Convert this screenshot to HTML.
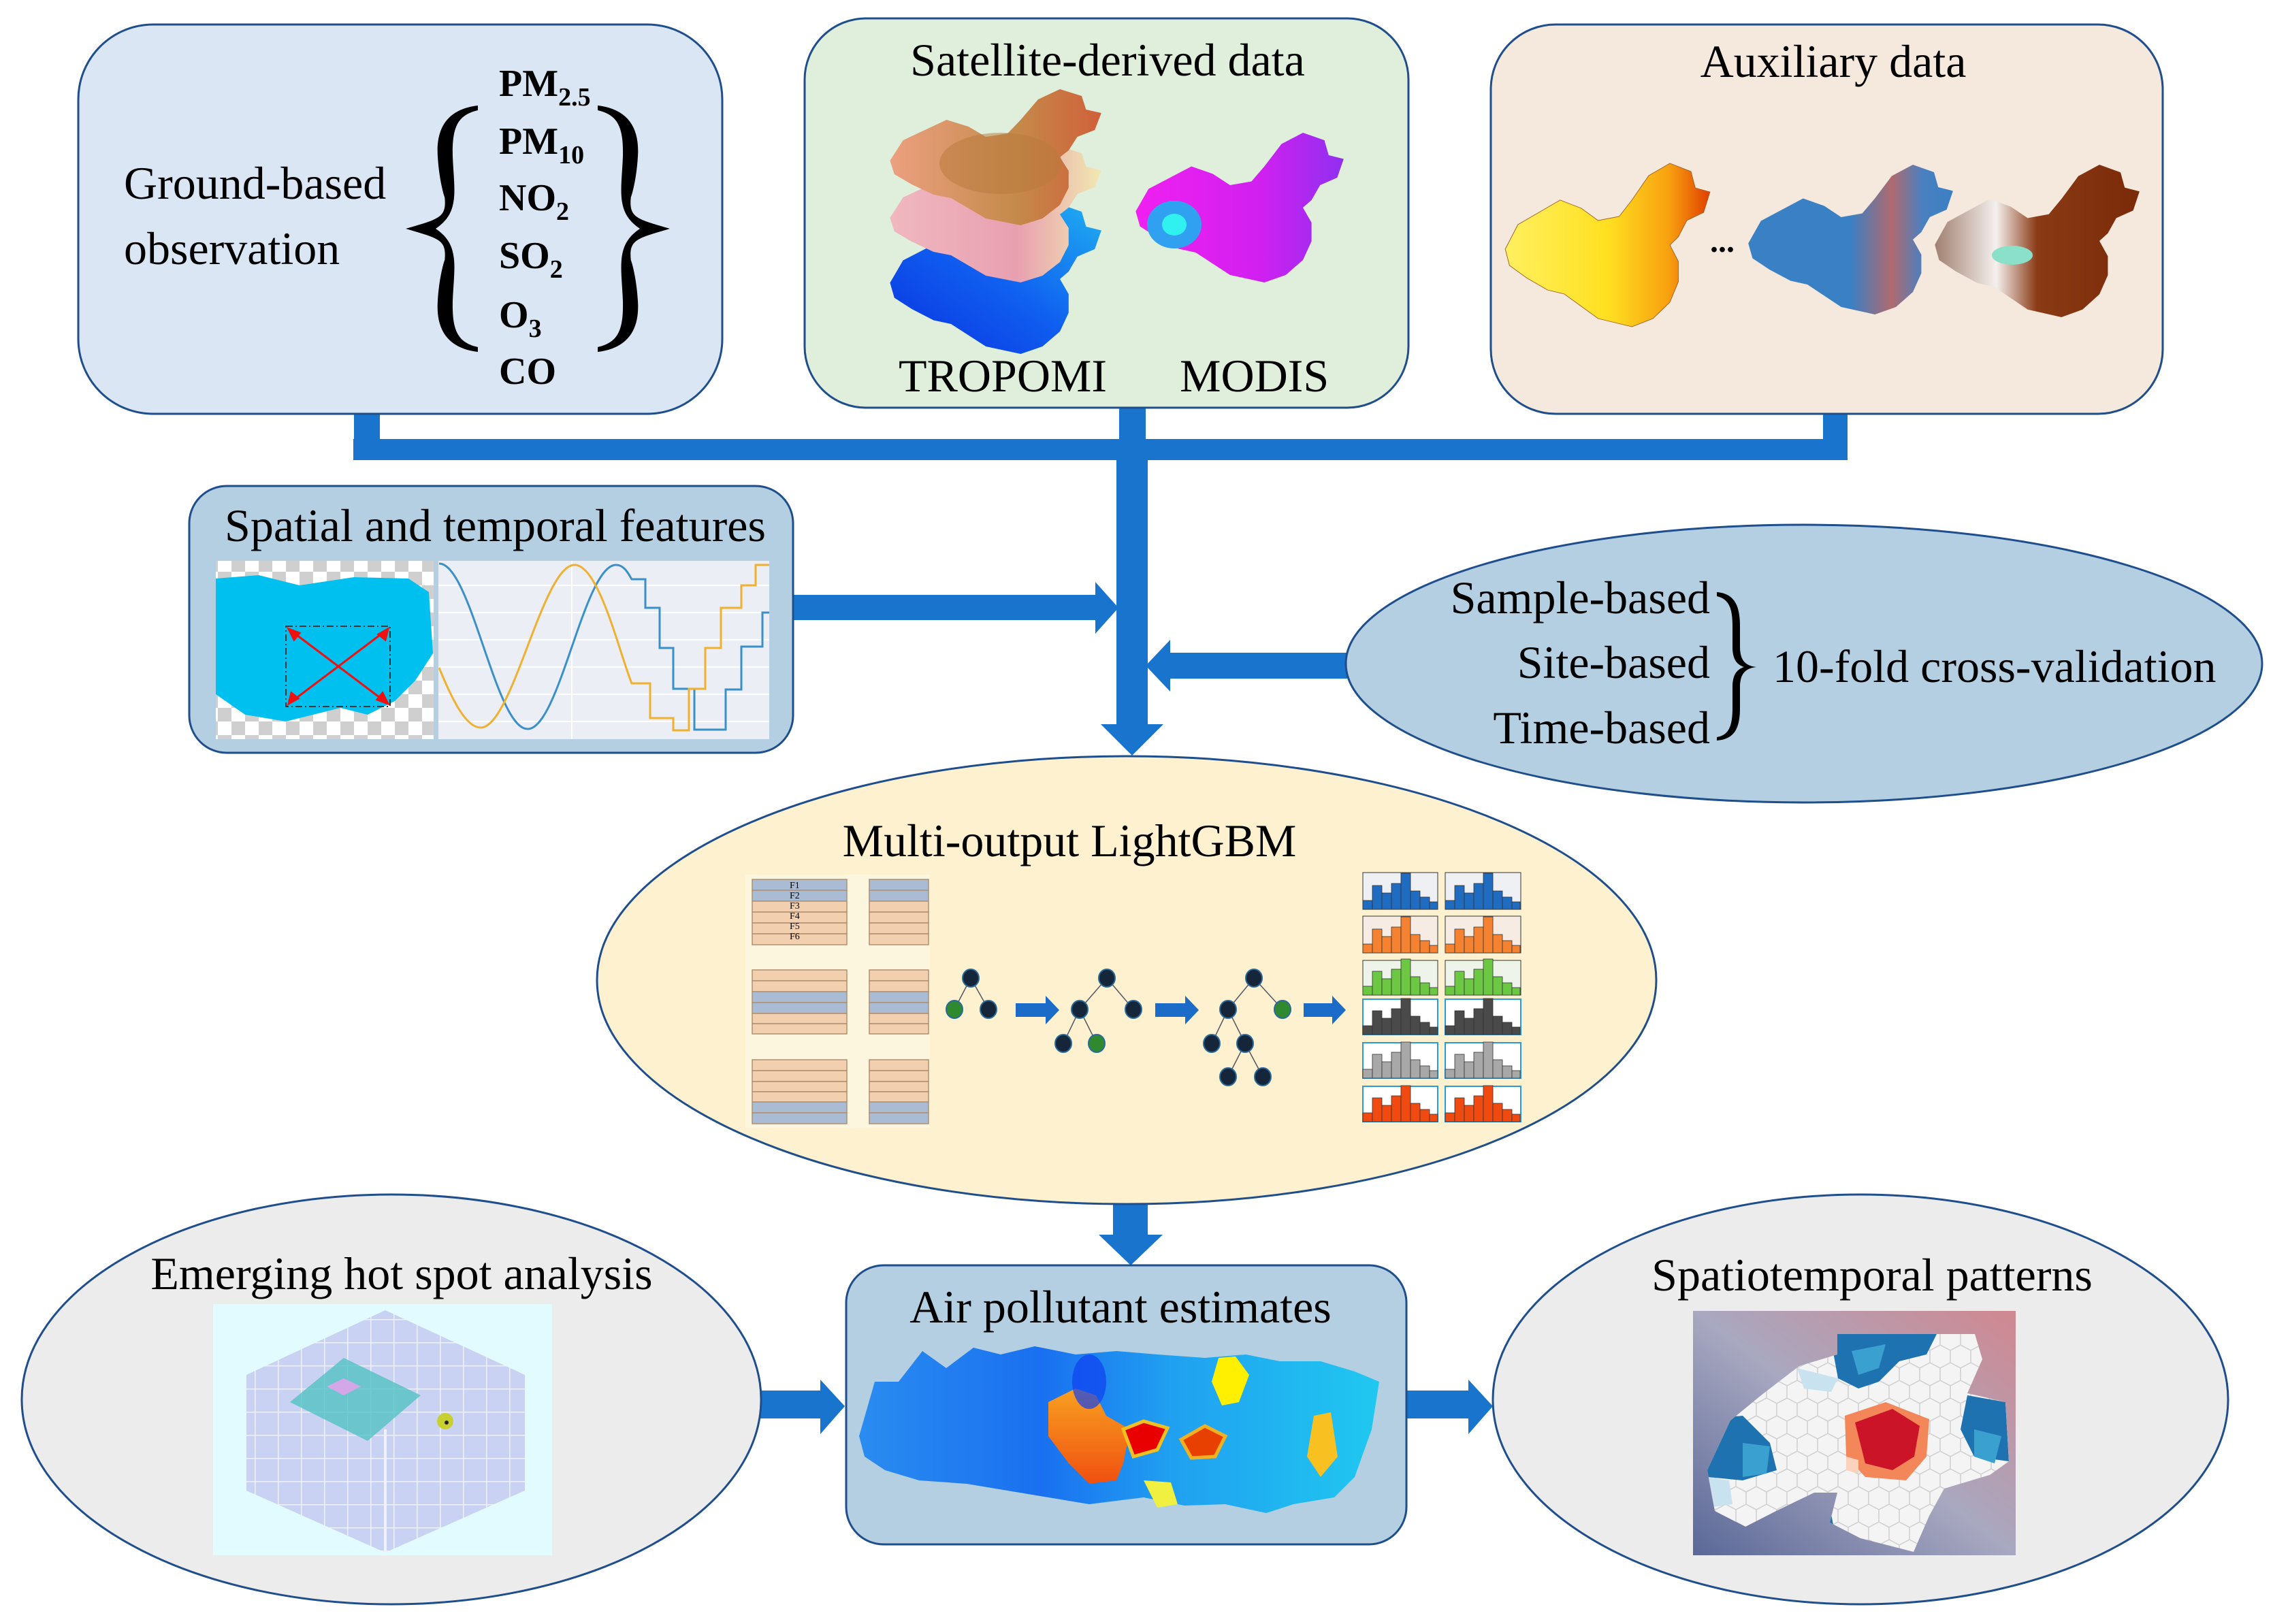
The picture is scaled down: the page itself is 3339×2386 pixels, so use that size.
<!DOCTYPE html>
<html><head><meta charset="utf-8">
<style>
html,body{margin:0;padding:0;background:#fff;}
svg{display:block;}
text{font-family:"Liberation Serif","DejaVu Serif",serif;fill:#000;}
</style></head>
<body>
<svg width="3339" height="2386" viewBox="0 0 3339 2386" xmlns="http://www.w3.org/2000/svg">
<defs>
  <path id="china" d="M2,42 L8,30 L18,24 L28,18 L38,22 L46,28 L56,26 L62,18 L70,6 L80,0 L90,4 L92,12 L99,14 L96,24 L88,28 L84,36 L80,40 L84,48 L84,58 L80,68 L72,76 L62,80 L54,78 L46,76 L38,70 L30,64 L22,62 L12,56 L4,50 Z"/>
  <linearGradient id="gTrop1" x1="0" y1="0" x2="1" y2="0">
    <stop offset="0" stop-color="#eca080"/><stop offset="0.6" stop-color="#c48a4a"/><stop offset="1" stop-color="#d0603a"/>
  </linearGradient>
  <linearGradient id="gTrop2" x1="0" y1="0" x2="1" y2="0">
    <stop offset="0" stop-color="#f0b8c0"/><stop offset="0.6" stop-color="#e8a0b0"/><stop offset="1" stop-color="#f0e8b0"/>
  </linearGradient>
  <linearGradient id="gTrop3" x1="0" y1="1" x2="1" y2="0">
    <stop offset="0" stop-color="#0a30e0"/><stop offset="0.5" stop-color="#1060f0"/><stop offset="1" stop-color="#20b0f0"/>
  </linearGradient>
  <linearGradient id="gModis" x1="0" y1="0" x2="1" y2="0">
    <stop offset="0" stop-color="#f020f0"/><stop offset="0.6" stop-color="#d020f0"/><stop offset="1" stop-color="#9030f0"/>
  </linearGradient>
  <linearGradient id="gAux1" x1="0" y1="0" x2="1" y2="0">
    <stop offset="0" stop-color="#fff060"/><stop offset="0.5" stop-color="#ffe020"/><stop offset="0.8" stop-color="#f8a010"/><stop offset="1" stop-color="#e04000"/>
  </linearGradient>
  <linearGradient id="gAux2" x1="0" y1="0" x2="1" y2="0">
    <stop offset="0" stop-color="#3a80c4"/><stop offset="0.5" stop-color="#3a80c4"/><stop offset="0.7" stop-color="#b06a70"/><stop offset="0.85" stop-color="#4a80c0"/><stop offset="1" stop-color="#3a80c4"/>
  </linearGradient>
  <linearGradient id="gAux3" x1="0" y1="0" x2="1" y2="0">
    <stop offset="0" stop-color="#a08070"/><stop offset="0.3" stop-color="#f4f0ee"/><stop offset="0.5" stop-color="#8a3a14"/><stop offset="1" stop-color="#7a2a08"/>
  </linearGradient>
  <linearGradient id="gAir" x1="0" y1="0" x2="1" y2="0">
    <stop offset="0" stop-color="#2a8cf0"/><stop offset="0.35" stop-color="#1a70f0"/><stop offset="0.6" stop-color="#20a0f0"/><stop offset="1" stop-color="#20c8f0"/>
  </linearGradient>
  <linearGradient id="gOrange" x1="0" y1="0" x2="0" y2="1">
    <stop offset="0" stop-color="#f8a020"/><stop offset="1" stop-color="#f05010"/>
  </linearGradient>
  <linearGradient id="gSpat" x1="0" y1="1" x2="1" y2="0">
    <stop offset="0" stop-color="#5a6898"/><stop offset="0.5" stop-color="#a8a8c0"/><stop offset="1" stop-color="#d08890"/>
  </linearGradient>
  <pattern id="checker" width="40" height="40" patternUnits="userSpaceOnUse">
    <rect width="40" height="40" fill="#fff"/><rect width="20" height="20" fill="#cfcfcf"/><rect x="20" y="20" width="20" height="20" fill="#cfcfcf"/>
  </pattern>
  <pattern id="hex" width="30" height="52" patternUnits="userSpaceOnUse">
    <rect width="30" height="52" fill="#f4f4f4"/>
    <path d="M0,0 L15,8 L15,26 L0,34 M15,26 L30,34 M15,8 L30,0 M0,34 L0,52 M30,34 L30,52" stroke="#cfcfcf" stroke-width="1.5" fill="none"/>
  </pattern>
  <pattern id="cubegrid" width="34" height="34" patternUnits="userSpaceOnUse">
    <rect width="34" height="34" fill="#c9d2f2"/>
    <path d="M0,0 H34 M0,0 V34" stroke="#eef1ff" stroke-width="3"/>
  </pattern>
  <clipPath id="blobclip">
    <polygon points="2699,1960 2901,1960 2912,1997 2890,2047 2946,2060 2951,2147 2923,2167 2856,2187 2834,2227 2811,2280 2733,2260 2688,2237 2699,2193 2665,2193 2609,2220 2564,2243 2519,2220 2508,2160 2542,2087 2587,2050 2643,2007 2699,1990"/>
  </clipPath>
  <g id="hist">
    <rect x="0" y="40" width="14" height="13"/><rect x="14" y="18" width="14" height="35"/>
    <rect x="28" y="29" width="14" height="24"/><rect x="42" y="15" width="14" height="38"/>
    <rect x="56" y="0" width="14" height="53"/><rect x="70" y="26" width="14" height="27"/>
    <rect x="84" y="35" width="14" height="18"/><rect x="98" y="42" width="12" height="11"/>
  </g>
</defs>

<!-- ===== Connectors ===== -->
<g fill="#1874cd">
  <rect x="520" y="605" width="38" height="71"/>
  <rect x="1644" y="595" width="39" height="81"/>
  <rect x="2678" y="605" width="36" height="71"/>
  <rect x="519" y="645" width="2195" height="31"/>
  <rect x="1640" y="676" width="46" height="390"/>
  <polygon points="1617,1064 1709,1064 1663,1110"/>
  <rect x="1165" y="874" width="446" height="37"/>
  <polygon points="1609,855 1643,893 1609,931"/>
  <rect x="1717" y="959" width="262" height="38"/>
  <polygon points="1719,940 1683,978 1719,1016"/>
  <rect x="1635" y="1765" width="51" height="52"/>
  <polygon points="1614,1814 1708,1814 1661,1859"/>
  <rect x="1116" y="2043" width="91" height="41"/>
  <polygon points="1205,2027 1241,2066 1205,2107"/>
  <rect x="2064" y="2043" width="95" height="41"/>
  <polygon points="2157,2027 2193,2066 2157,2107"/>
</g>

<!-- ===== Ground-based box ===== -->
<rect x="115" y="36" width="946" height="572" rx="110" fill="#dae6f4" stroke="#1f4e8c" stroke-width="3"/>
<text x="182" y="292" font-size="68">Ground-based</text>
<text x="182" y="388" font-size="68">observation</text>
<g font-weight="bold" font-size="56">
  <text x="733" y="141">PM<tspan font-size="38" dy="14">2.5</tspan></text>
  <text x="733" y="226">PM<tspan font-size="38" dy="14">10</tspan></text>
  <text x="733" y="309">NO<tspan font-size="38" dy="14">2</tspan></text>
  <text x="733" y="394">SO<tspan font-size="38" dy="14">2</tspan></text>
  <text x="733" y="481">O<tspan font-size="38" dy="14">3</tspan></text>
  <text x="733" y="564">CO</text>
</g>
<path d="M702,155 C660,160 640,185 643,230 C646,280 660,310 652,280 C658,320 650,320 596,336 C650,352 658,352 652,392 C660,362 646,392 643,442 C640,487 660,512 702,517 L702,510 C672,503 664,485 665,442 C667,392 676,360 640,336 C676,312 667,280 665,230 C664,187 672,169 702,162 Z" fill="#000"/>
<path d="M878,155 C920,160 940,185 937,230 C934,280 920,310 928,280 C922,320 930,320 984,336 C930,352 922,352 928,392 C920,362 934,392 937,442 C940,487 920,512 878,517 L878,510 C908,503 916,485 915,442 C913,392 904,360 940,336 C904,312 913,280 915,230 C916,187 908,169 878,162 Z" fill="#000"/>

<!-- ===== Satellite box ===== -->
<rect x="1182" y="27" width="887" height="572" rx="90" fill="#dfefdc" stroke="#1f4e8c" stroke-width="3"/>
<text x="1627" y="111" font-size="68" text-anchor="middle">Satellite-derived data</text>
<use href="#china" transform="translate(1301,300) scale(3.2,2.75)" fill="url(#gTrop3)"/>
<use href="#china" transform="translate(1301,215) scale(3.2,2.5)" fill="url(#gTrop2)"/>
<use href="#china" transform="translate(1301,131) scale(3.2,2.5)" fill="url(#gTrop1)"/>
<ellipse cx="1470" cy="240" rx="90" ry="45" fill="#b87a3c" opacity="0.5"/>
<use href="#china" transform="translate(1662,195) scale(3.15,2.75)" fill="url(#gModis)"/>
<ellipse cx="1725" cy="330" rx="40" ry="35" fill="#30a0f0"/>
<ellipse cx="1725" cy="330" rx="18" ry="16" fill="#30f0f0"/>
<text x="1320" y="575" font-size="68">TROPOMI</text>
<text x="1733" y="575" font-size="68">MODIS</text>

<!-- ===== Auxiliary box ===== -->
<rect x="2190" y="36" width="987" height="572" rx="95" fill="#f5e8dd" stroke="#1f4e8c" stroke-width="3"/>
<text x="2693" y="113" font-size="68" text-anchor="middle">Auxiliary data</text>
<use href="#china" transform="translate(2205,240) scale(3.1,3.0)" fill="url(#gAux1)" stroke="#a06020" stroke-width="0.3"/>
<text x="2512" y="370" font-size="48" font-weight="bold">...</text>
<use href="#china" transform="translate(2562,242) scale(3.1,2.75)" fill="url(#gAux2)"/>
<use href="#china" transform="translate(2836,242) scale(3.1,2.8)" fill="url(#gAux3)"/>
<ellipse cx="2956" cy="375" rx="30" ry="14" fill="#8ae0c8"/>

<!-- ===== Spatial and temporal features ===== -->
<rect x="278" y="714" width="887" height="392" rx="55" fill="#b4cfe1" stroke="#1f4e8c" stroke-width="3"/>
<text x="330" y="795" font-size="68">Spatial and temporal features</text>
<rect x="317" y="824" width="320" height="262" fill="url(#checker)"/>
<path d="M317,850 L380,845 L440,860 L520,848 L600,850 L630,870 L636,960 L610,1000 L580,1030 L540,1050 L500,1040 L420,1060 L360,1050 L317,1020 Z" fill="#00c0f0"/>
<rect x="420" y="920" width="153" height="118" fill="none" stroke="#333" stroke-width="2" stroke-dasharray="10,4,2,4"/>
<g stroke="#f01010" stroke-width="3" fill="#f01010">
  <line x1="424" y1="924" x2="570" y2="1034"/>
  <line x1="570" y1="924" x2="424" y2="1034"/>
  <polygon points="424,924 440,930 432,940"/>
  <polygon points="570,1034 554,1028 562,1018"/>
  <polygon points="570,924 566,940 556,932"/>
  <polygon points="424,1034 428,1018 438,1026"/>
</g>
<rect x="644" y="824" width="486" height="262" fill="#eceef6"/>
<g stroke="#ffffff" stroke-width="2">
  <line x1="644" y1="860" x2="1130" y2="860"/><line x1="644" y1="900" x2="1130" y2="900"/>
  <line x1="644" y1="940" x2="1130" y2="940"/><line x1="644" y1="980" x2="1130" y2="980"/>
  <line x1="644" y1="1020" x2="1130" y2="1020"/><line x1="644" y1="1060" x2="1130" y2="1060"/>
  <line x1="840" y1="824" x2="840" y2="1086"/>
</g>
<path d="M645,828 C692,828 728,1071 775,1071 C822,1071 858,830 905,830 C918,830 924,845 928,851 H948 V893 H969 V952 H989 V1012 H1020 V1072 H1043 H1066 V1013 H1089 V950 H1120 V900 H1130" fill="none" stroke="#3a90c8" stroke-width="3"/>
<path d="M645,981 C665,1030 685,1069 706,1069 C753,1069 797,830 844,830 C880,830 910,960 928,1004 H955 V1055 H989 V1073 H1012 V1012 H1036 V952 H1059 V893 H1089 V860 H1110 V830 H1130" fill="none" stroke="#f0b030" stroke-width="3"/>

<!-- ===== Cross-validation ellipse ===== -->
<ellipse cx="2650" cy="975" rx="673" ry="204" fill="#b4cfe1" stroke="#1f4e8c" stroke-width="3"/>
<g font-size="68" text-anchor="end">
  <text x="2512" y="901">Sample-based</text>
  <text x="2512" y="996">Site-based</text>
  <text x="2512" y="1092">Time-based</text>
</g>
<path d="M2522,870 C2548,872 2556,890 2556,920 L2556,950 C2556,968 2562,978 2580,980 C2562,982 2556,992 2556,1010 L2556,1040 C2556,1070 2548,1086 2522,1088 L2522,1083 C2540,1080 2545,1066 2545,1040 L2545,1010 C2545,993 2550,984 2562,980 C2550,976 2545,967 2545,950 L2545,920 C2545,894 2540,880 2522,876 Z" fill="#000"/>
<text x="2604" y="1002" font-size="68">10-fold cross-validation</text>

<!-- ===== Multi-output LightGBM ===== -->
<ellipse cx="1655" cy="1440" rx="778" ry="329" fill="#fdf1cf" stroke="#1f4e8c" stroke-width="3"/>
<text x="1571" y="1258" font-size="68" text-anchor="middle">Multi-output LightGBM</text>
<rect x="1095" y="1285" width="271" height="372" fill="#fdf6df"/>
<g stroke="#b09070" stroke-width="1.5">
  <rect x="1105" y="1292" width="139" height="16" fill="#aabbd4"/><rect x="1105" y="1308" width="139" height="16" fill="#aabbd4"/>
  <rect x="1105" y="1324" width="139" height="16" fill="#f2cfae"/><rect x="1105" y="1340" width="139" height="16" fill="#f2cfae"/>
  <rect x="1105" y="1356" width="139" height="16" fill="#f2cfae"/><rect x="1105" y="1372" width="139" height="16" fill="#f2cfae"/>
  <rect x="1277" y="1292" width="87" height="16" fill="#aabbd4"/><rect x="1277" y="1308" width="87" height="16" fill="#aabbd4"/>
  <rect x="1277" y="1324" width="87" height="16" fill="#f2cfae"/><rect x="1277" y="1340" width="87" height="16" fill="#f2cfae"/>
  <rect x="1277" y="1356" width="87" height="16" fill="#f2cfae"/><rect x="1277" y="1372" width="87" height="16" fill="#f2cfae"/>
  <rect x="1105" y="1425" width="139" height="16" fill="#f2cfae"/><rect x="1105" y="1441" width="139" height="16" fill="#f2cfae"/>
  <rect x="1105" y="1457" width="139" height="16" fill="#aabbd4"/><rect x="1105" y="1473" width="139" height="16" fill="#aabbd4"/>
  <rect x="1105" y="1489" width="139" height="15" fill="#f2cfae"/><rect x="1105" y="1504" width="139" height="15" fill="#f2cfae"/>
  <rect x="1277" y="1425" width="87" height="16" fill="#f2cfae"/><rect x="1277" y="1441" width="87" height="16" fill="#f2cfae"/>
  <rect x="1277" y="1457" width="87" height="16" fill="#aabbd4"/><rect x="1277" y="1473" width="87" height="16" fill="#aabbd4"/>
  <rect x="1277" y="1489" width="87" height="15" fill="#f2cfae"/><rect x="1277" y="1504" width="87" height="15" fill="#f2cfae"/>
  <rect x="1105" y="1557" width="139" height="16" fill="#f2cfae"/><rect x="1105" y="1573" width="139" height="16" fill="#f2cfae"/>
  <rect x="1105" y="1589" width="139" height="15" fill="#f2cfae"/><rect x="1105" y="1604" width="139" height="15" fill="#f2cfae"/>
  <rect x="1105" y="1619" width="139" height="16" fill="#aabbd4"/><rect x="1105" y="1635" width="139" height="16" fill="#aabbd4"/>
  <rect x="1277" y="1557" width="87" height="16" fill="#f2cfae"/><rect x="1277" y="1573" width="87" height="16" fill="#f2cfae"/>
  <rect x="1277" y="1589" width="87" height="15" fill="#f2cfae"/><rect x="1277" y="1604" width="87" height="15" fill="#f2cfae"/>
  <rect x="1277" y="1619" width="87" height="16" fill="#aabbd4"/><rect x="1277" y="1635" width="87" height="16" fill="#aabbd4"/>
</g>
<g font-size="14" fill="#333" font-family="Liberation Sans,sans-serif">
  <text x="1160" y="1305">F1</text><text x="1160" y="1320">F2</text><text x="1160" y="1335">F3</text>
  <text x="1160" y="1350">F4</text><text x="1160" y="1365">F5</text><text x="1160" y="1380">F6</text>
</g>
<g stroke="#556" stroke-width="1.5">
  <line x1="1426" y1="1437" x2="1402" y2="1483"/><line x1="1426" y1="1437" x2="1452" y2="1483"/>
  <line x1="1626" y1="1437" x2="1586" y2="1483"/><line x1="1626" y1="1437" x2="1665" y2="1483"/>
  <line x1="1586" y1="1483" x2="1562" y2="1533"/><line x1="1586" y1="1483" x2="1611" y2="1533"/>
  <line x1="1842" y1="1437" x2="1804" y2="1483"/><line x1="1842" y1="1437" x2="1884" y2="1483"/>
  <line x1="1804" y1="1483" x2="1780" y2="1533"/><line x1="1804" y1="1483" x2="1829" y2="1533"/>
  <line x1="1829" y1="1533" x2="1804" y2="1582"/><line x1="1829" y1="1533" x2="1855" y2="1582"/>
</g>
<g fill="#15263a" stroke="#2a6a9a" stroke-width="2">
  <ellipse cx="1426" cy="1437" rx="12" ry="13"/><ellipse cx="1452" cy="1483" rx="12" ry="13"/>
  <ellipse cx="1626" cy="1437" rx="12" ry="13"/><ellipse cx="1586" cy="1483" rx="12" ry="13"/><ellipse cx="1665" cy="1483" rx="12" ry="13"/><ellipse cx="1562" cy="1533" rx="12" ry="13"/>
  <ellipse cx="1842" cy="1437" rx="12" ry="13"/><ellipse cx="1804" cy="1483" rx="12" ry="13"/><ellipse cx="1780" cy="1533" rx="12" ry="13"/><ellipse cx="1829" cy="1533" rx="12" ry="13"/><ellipse cx="1804" cy="1582" rx="12" ry="13"/><ellipse cx="1855" cy="1582" rx="12" ry="13"/>
</g>
<g fill="#2f8a2f" stroke="#2a6a9a" stroke-width="2">
  <ellipse cx="1402" cy="1483" rx="12" ry="13"/><ellipse cx="1611" cy="1533" rx="12" ry="13"/><ellipse cx="1884" cy="1483" rx="12" ry="13"/>
</g>
<g fill="#1a6cc8">
  <polygon points="1492,1474 1536,1474 1536,1463 1556,1484 1536,1505 1536,1494 1492,1494"/>
  <polygon points="1697,1474 1741,1474 1741,1463 1761,1484 1741,1505 1741,1494 1697,1494"/>
  <polygon points="1915,1474 1957,1474 1957,1463 1977,1484 1957,1505 1957,1494 1915,1494"/>
</g>
<g stroke="#333" stroke-width="1">
  <rect x="2002" y="1282" width="110" height="54" fill="#eef0f4"/><rect x="2123" y="1282" width="111" height="54" fill="#eef0f4"/>
  <rect x="2002" y="1346" width="110" height="54" fill="#f6ece4"/><rect x="2123" y="1346" width="111" height="54" fill="#f6ece4"/>
  <rect x="2002" y="1411" width="110" height="51" fill="#eef4ea"/><rect x="2123" y="1411" width="111" height="51" fill="#eef4ea"/>
</g>
<g stroke="#2a9ae0" stroke-width="2">
  <rect x="2002" y="1468" width="110" height="52" fill="#fff"/><rect x="2123" y="1468" width="111" height="52" fill="#fff"/>
  <rect x="2002" y="1532" width="110" height="52" fill="#fff"/><rect x="2123" y="1532" width="111" height="52" fill="#fff"/>
  <rect x="2002" y="1596" width="110" height="52" fill="#fff"/><rect x="2123" y="1596" width="111" height="52" fill="#fff"/>
</g>
<g stroke="#333" stroke-width="0.8">
  <use href="#hist" transform="translate(2002,1283)" fill="#1f6cc0"/><use href="#hist" transform="translate(2123,1283)" fill="#1f6cc0"/>
  <use href="#hist" transform="translate(2002,1347)" fill="#f58230"/><use href="#hist" transform="translate(2123,1347)" fill="#f58230"/>
  <use href="#hist" transform="translate(2002,1409)" fill="#6cc843"/><use href="#hist" transform="translate(2123,1409)" fill="#6cc843"/>
  <use href="#hist" transform="translate(2002,1467)" fill="#4a4a4a"/><use href="#hist" transform="translate(2123,1467)" fill="#4a4a4a"/>
  <use href="#hist" transform="translate(2002,1531)" fill="#a8a8a8"/><use href="#hist" transform="translate(2123,1531)" fill="#a8a8a8"/>
  <use href="#hist" transform="translate(2002,1595)" fill="#f04a10"/><use href="#hist" transform="translate(2123,1595)" fill="#f04a10"/>
</g>

<!-- ===== Emerging hot spot ===== -->
<ellipse cx="575" cy="2056" rx="543" ry="301" fill="#ececec" stroke="#1f4e8c" stroke-width="3"/>
<text x="590" y="1894" font-size="68" text-anchor="middle">Emerging hot spot analysis</text>
<rect x="313" y="1916" width="498" height="369" fill="#e2fbfe"/>
<polygon points="566,1925 771,2020 771,2190 566,2281 362,2190 362,2020" fill="url(#cubegrid)"/>
<line x1="566" y1="2100" x2="566" y2="2281" stroke="#eef1ff" stroke-width="4"/>
<polygon points="505,1995 618,2050 540,2117 426,2060" fill="#4ac0c0" opacity="0.75"/>
<polygon points="505,2025 530,2037 505,2050 480,2037" fill="#d4a8e8"/>
<circle cx="654" cy="2088" r="12" fill="#c8d030"/><circle cx="656" cy="2090" r="3" fill="#222"/>

<!-- ===== Air pollutant estimates ===== -->
<rect x="1243" y="1859" width="823" height="410" rx="55" fill="#b4cfe1" stroke="#1f4e8c" stroke-width="3"/>
<text x="1646" y="1943" font-size="68" text-anchor="middle">Air pollutant estimates</text>
<path d="M1262,2110 L1285,2030 L1320,2030 L1355,1985 L1390,2010 L1430,1980 L1470,1990 L1520,1978 L1580,1990 L1640,1985 L1700,1990 L1770,1995 L1830,1990 L1880,2000 L1940,2000 L1990,2015 L2026,2030 L2015,2100 L1990,2170 L1960,2200 L1900,2210 L1860,2223 L1800,2210 L1740,2212 L1680,2200 L1600,2210 L1540,2200 L1480,2190 L1420,2180 L1350,2175 L1300,2160 L1270,2140 Z" fill="url(#gAir)"/>
<path d="M1540,2060 L1580,2040 L1610,2050 L1625,2080 L1660,2100 L1650,2150 L1640,2175 L1600,2180 L1570,2150 L1540,2110 Z" fill="url(#gOrange)"/>
<path d="M1650,2100 L1680,2088 L1715,2098 L1700,2130 L1665,2140 Z" fill="#e80000" stroke="#f0c020" stroke-width="5"/>
<path d="M1735,2115 L1770,2095 L1800,2110 L1785,2140 L1750,2142 Z" fill="#e84000" stroke="#f0b020" stroke-width="5"/>
<path d="M1790,1995 L1815,1993 L1835,2020 L1820,2060 L1795,2065 L1780,2030 Z" fill="#ffef00"/>
<path d="M1930,2080 L1955,2075 L1965,2140 L1940,2170 L1920,2140 Z" fill="#f8c020"/>
<path d="M1680,2175 L1720,2178 L1730,2210 L1700,2215 Z" fill="#f0f040"/>
<ellipse cx="1600" cy="2030" rx="25" ry="40" fill="#1040f0" opacity="0.7"/>

<!-- ===== Spatiotemporal patterns ===== -->
<ellipse cx="2733" cy="2056" rx="540" ry="301" fill="#ececec" stroke="#1f4e8c" stroke-width="3"/>
<text x="2750" y="1896" font-size="68" text-anchor="middle">Spatiotemporal patterns</text>
<rect x="2487" y="1926" width="474" height="359" fill="url(#gSpat)"/>
<g clip-path="url(#blobclip)">
  <rect x="2480" y="1920" width="490" height="370" fill="url(#hex)"/>
  <polygon points="2688,1960 2845,1960 2830,1990 2790,2000 2760,2030 2730,2040 2700,2025" fill="#1f72b0"/>
  <polygon points="2720,1985 2770,1975 2760,2010 2730,2020" fill="#3aa0d0"/>
  <polygon points="2640,2010 2700,2025 2690,2045 2650,2040" fill="#c8e2f0"/>
  <polygon points="2508,2085 2560,2080 2600,2120 2610,2160 2560,2175 2508,2170" fill="#1f72b0"/>
  <polygon points="2560,2120 2600,2125 2595,2165 2560,2170" fill="#3aa0d0"/>
  <polygon points="2508,2170 2540,2175 2545,2210 2510,2215" fill="#c8e2f0"/>
  <polygon points="2890,2050 2946,2060 2951,2147 2900,2140 2880,2100" fill="#1f72b0"/>
  <polygon points="2900,2100 2940,2110 2930,2150 2900,2140" fill="#3aa0d0"/>
  <polygon points="2710,2080 2770,2060 2834,2085 2830,2140 2800,2175 2740,2170 2712,2140" fill="#f4875a"/>
  <polygon points="2725,2090 2780,2070 2820,2095 2812,2140 2780,2160 2740,2150" fill="#cc1428"/>
  <polygon points="2712,2140 2730,2145 2730,2165 2712,2160" fill="#fcd2bc"/>
  <polygon points="2680,2230 2690,2225 2695,2250 2680,2255" fill="#1f72b0"/>
</g>
</svg>
</body></html>
